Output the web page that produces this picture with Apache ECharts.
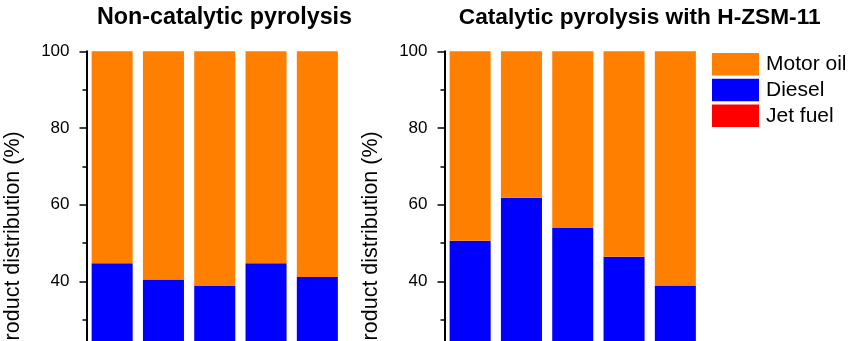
<!DOCTYPE html>
<html>
<head>
<meta charset="utf-8">
<script src="https://cdn.jsdelivr.net/npm/echarts@6/dist/echarts.min.js"></script>
<style>
html,body{margin:0;padding:0;background:#fff;width:850px;height:341px;overflow:hidden;}
#wrap{width:850px;height:341px;overflow:hidden;position:relative;}
#c{width:850px;height:460px;position:absolute;left:0;top:0;}
</style>
</head>
<body>
<div id="wrap"><div id="c"></div></div>
<script>
// Categories (tick labels not visible in the cropped reference)
var categories = ['1', '2', '3', '4', '5'];
var yTicks = [0, 20, 40, 60, 80, 100];

// Non-catalytic pyrolysis (%), stacked bottom-up: Jet fuel, Diesel, Motor oil
var nonCatJetFuel = [15, 14, 13, 15, 14];
var nonCatDiesel = [29.7, 26.5, 25.8, 29.7, 27.1];
var nonCatMotorOil = [55.3, 59.5, 61.2, 55.3, 58.9];

// Catalytic pyrolysis with H-ZSM-11 (%)
var catJetFuel = [18, 22, 19, 16, 13];
var catDiesel = [32.6, 39.8, 34.9, 30.4, 25.9];
var catMotorOil = [49.4, 38.2, 46.1, 53.6, 61.1];

var FONT = 'Liberation Sans, Arial, sans-serif';
var colors = { 'Motor oil': '#ff8000', 'Diesel': '#0000ff', 'Jet fuel': '#ff0000' };

function yAxis(idx) {
  return {
    gridIndex: idx, type: 'value', min: yTicks[0], max: yTicks[yTicks.length - 1], interval: 20,
    name: 'Product distribution (%)', nameLocation: 'middle', nameGap: 62,
    nameTextStyle: { fontFamily: FONT, fontSize: 21.5, color: '#000' },
    axisLine: { show: true, lineStyle: { color: '#000', width: 2 } },
    axisTick: { show: true, length: 7, lineStyle: { color: '#000', width: 1.5 } },
    minorTick: { show: true, splitNumber: 2, length: 4, lineStyle: { color: '#000', width: 1.5 } },
    splitLine: { show: false },
    axisLabel: { fontFamily: FONT, fontSize: 17, color: '#000', margin: 17 }
  };
}
function xAxis(idx) {
  return {
    gridIndex: idx, type: 'category', data: categories,
    axisLine: { show: true, lineStyle: { color: '#000', width: 2 } },
    axisTick: { show: false }, axisLabel: { show: false }
  };
}
function bars(idx, stack, jet, diesel, motor) {
  var mk = function (name, data) {
    return {
      name: name, type: 'bar', xAxisIndex: idx, yAxisIndex: idx, stack: stack, data: data,
      barCategoryGap: '20%', itemStyle: { color: colors[name] }, silent: true
    };
  };
  return [mk('Jet fuel', jet), mk('Diesel', diesel), mk('Motor oil', motor)];
}

var chart = echarts.init(document.getElementById('c'), null, { renderer: 'canvas' });
chart.setOption({
  backgroundColor: '#fff',
  animation: false,
  title: [
    { text: 'Non-catalytic pyrolysis', left: 219.5, textAlign: 'center', top: 1,
      textStyle: { fontFamily: FONT, fontSize: 23.3, fontWeight: 'bold', color: '#000' } },
    { text: 'Catalytic pyrolysis with H-ZSM-11', left: 634.7, textAlign: 'center', top: 1,
      textStyle: { fontFamily: FONT, fontSize: 22.7, fontWeight: 'bold', color: '#000' } }
  ],
  legend: {
    orient: 'vertical', left: 712, top: 53, padding: 0, itemWidth: 47, itemHeight: 22.5, itemGap: 3.3,
    icon: 'rect', data: ['Motor oil', 'Diesel', 'Jet fuel'],
    textStyle: { fontFamily: FONT, fontSize: 21, color: '#000', padding: [0, 0, 0, 2] },
    selectedMode: false
  },
  grid: [
    { left: 86.5, top: 51.3, width: 256.5, height: 383.4, containLabel: false },
    { left: 444.5, top: 51.3, width: 256.5, height: 383.4, containLabel: false }
  ],
  xAxis: [xAxis(0), xAxis(1)],
  yAxis: [yAxis(0), yAxis(1)],
  series: bars(0, 'a', nonCatJetFuel, nonCatDiesel, nonCatMotorOil)
    .concat(bars(1, 'b', catJetFuel, catDiesel, catMotorOil))
});
</script>
</body>
</html>
